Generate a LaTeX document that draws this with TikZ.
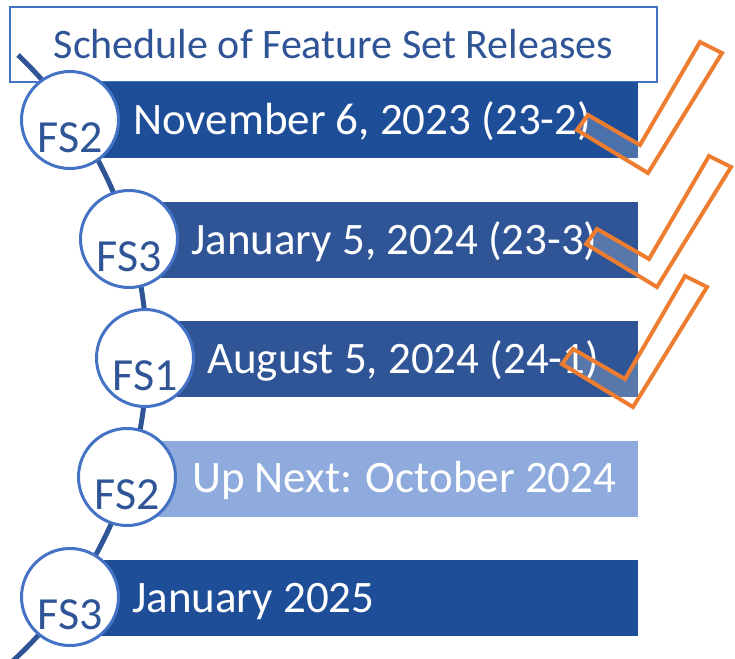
\documentclass[tikz,border=0pt]{standalone}
\usepackage{fontspec}
\setmainfont{Carlito}
\usepackage{xcolor}

\definecolor{deepblue}{HTML}{1F4E99}
\definecolor{midblue}{HTML}{2F5597}
\definecolor{paleblue}{HTML}{8FAADC}
\definecolor{accent}{HTML}{4472C4}
\definecolor{navytext}{HTML}{2F5597}
\definecolor{tickorange}{HTML}{ED7D31}

\begin{document}
\begin{tikzpicture}[
    x=1pt, y=-1pt,
    titlebox/.style={rectangle, draw=accent, line width=1.5pt, fill=white, minimum width=647pt, minimum height=75pt, text=navytext, font=\fontsize{42}{50}\selectfont},
    bar/.style={rectangle, minimum height=76pt, inner sep=0pt},
    stage/.style={circle, draw=accent, line width=3pt, fill=white, minimum size=97pt, inner sep=0pt},
    stagetext/.style={text=navytext, font=\fontsize{46}{55}\selectfont, inner sep=0pt},
    datetext/.style={text=white, font=\fontsize{45}{54}\selectfont, inner sep=0pt, anchor=base west},
    timeline/.style={line width=5pt, draw=midblue},
    tick/.style={draw=tickorange, line width=4pt, fill=white, fill opacity=0.2, line join=miter}
]
\useasboundingbox (0,0) rectangle (735,658);
\clip (0,0) rectangle (735,658);

% Title
\node[titlebox] (title) at (333.5,44.5) {Schedule of Feature Set Releases};

% Timeline curve
\draw[timeline] (18,55) arc[start angle=46.4, end angle=-50, radius=415pt];

% Release bars
\node[bar, fill=deepblue, minimum width=568pt] (bar1) at (354,120) {};
\node[bar, fill=midblue, minimum width=509pt] (bar2) at (383.5,240) {};
\node[bar, fill=midblue, minimum width=493pt] (bar3) at (391.5,358.5) {};
\node[bar, fill=paleblue, minimum width=511pt] (bar4) at (382.5,478.5) {};
\node[bar, fill=deepblue, minimum width=568pt] (bar5) at (354,597.5) {};

% Feature set circles
\node[stage] (s1) at (70,120) {};
\node[stage] (s2) at (129,239) {};
\node[stage] (s3) at (145,358) {};
\node[stage] (s4) at (127,477) {};
\node[stage] (s5) at (70,597) {};

\node[stagetext] (fs1) at ([yshift=-18pt]s1.center) {FS2};
\node[stagetext] (fs2) at ([yshift=-18pt]s2.center) {FS3};
\node[stagetext] (fs3) at ([yshift=-18pt]s3.center) {FS1};
\node[stagetext] (fs4) at ([yshift=-18pt]s4.center) {FS2};
\node[stagetext] (fs5) at ([yshift=-18pt]s5.center) {FS3};

% Dates
\node[datetext] (d1) at ([xshift=13pt, yshift=-14.5pt]s1.east) {November 6, 2023 (23-2)};
\node[datetext] (d2) at ([xshift=12pt, yshift=-15.5pt]s2.east) {January 5, 2024 (23-3)};
\node[datetext] (d3) at ([xshift=12pt, yshift=-15pt]s3.east) {August 5, 2024 (24-1)};
\node[datetext] (d4) at ([xshift=15pt, yshift=-15.5pt]s4.east) {Up Next: October 2024};
\node[datetext] (d5) at ([xshift=12pt, yshift=-15pt]s5.east) {January 2025};

% Check marks for the finished releases
\draw[tick, shift={(648,173)}] (-71,-43) -- (-60,-58) -- (-8,-28) -- (52,-131) -- (74,-120) -- (0,0) -- cycle;
\draw[tick, shift={(657,287)}] (-71,-43) -- (-60,-58) -- (-8,-28) -- (52,-131) -- (74,-120) -- (0,0) -- cycle;
\draw[tick, shift={(633,407)}] (-71,-43) -- (-60,-58) -- (-8,-28) -- (52,-131) -- (74,-120) -- (0,0) -- cycle;

\end{tikzpicture}
\end{document}
